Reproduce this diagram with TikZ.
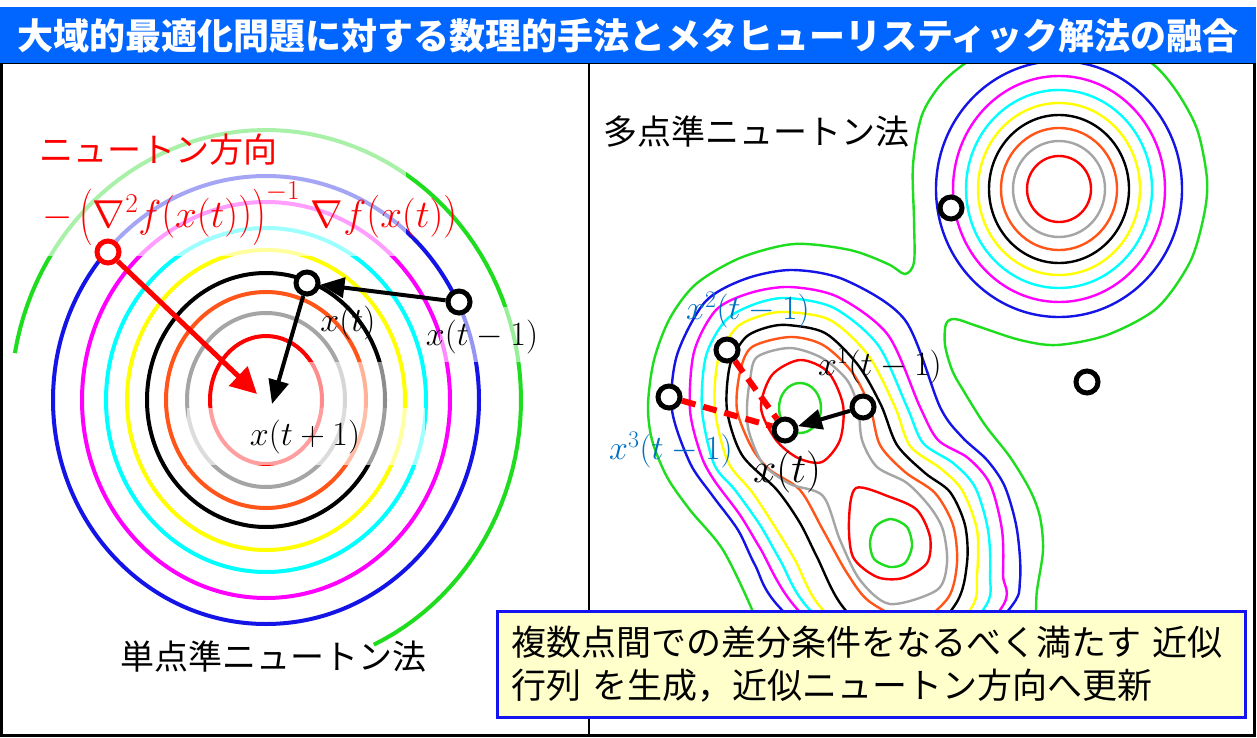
\RequirePackage{fix-cm}
\documentclass[tikz,border=0pt]{standalone}
\usepackage{fontspec}
\setmainfont{Noto Sans CJK JP}
\usetikzlibrary{arrows.meta}
\definecolor{tbar}{RGB}{0,102,255}
\definecolor{lblue}{RGB}{0,112,192}
\definecolor{cred}{RGB}{255,0,0}
\definecolor{cgray}{RGB}{165,165,165}
\definecolor{corange}{RGB}{255,85,25}
\definecolor{cyellow}{RGB}{255,255,0}
\definecolor{ccyan}{RGB}{0,255,255}
\definecolor{cmag}{RGB}{255,0,255}
\definecolor{cblue}{RGB}{20,20,230}
\definecolor{cgreen}{RGB}{30,220,30}
\definecolor{boxfill}{RGB}{255,255,204}
\definecolor{boxline}{RGB}{20,20,240}
\newcommand\pL[1]{\mathopen{\vcenter{\hbox{\scalebox{1}[#1]{$($}}}}}
\newcommand\pR[1]{\mathclose{\vcenter{\hbox{\scalebox{1}[#1]{$)$}}}}}
\begin{document}
\begin{tikzpicture}[x=1pt,y=-1pt,
  ring/.style={line width=4pt},
  cl/.style={line width=2.4pt},
  pt/.style={circle,draw=black,fill=white,line width=5pt,minimum size=22pt,inner sep=0pt},
  rpt/.style={pt,draw=cred},
  blkarr/.style={line width=4pt,-{Triangle[length=24pt,width=20pt]}},
  redarr/.style={cred,line width=5pt,-{Triangle[length=26pt,width=26pt]}},
  rdash/.style={cred,line width=6pt,dash pattern=on 14pt off 8pt},
  lbl/.style={font=\fontsize{34}{40}\selectfont,inner sep=0pt},
  jtxt/.style={font=\fontsize{34}{40}\selectfont,inner sep=0pt}]
\useasboundingbox (0,0) rectangle (1257,738);
\fill[white] (0,0) rectangle (1257,738);

% ---------- left panel rings ----------
\foreach \rc/\rx/\ry in {cred/56/64,cgray/79/87,corange/100/108,black/119/127,cyellow/139/150,ccyan/160/172,cmag/184/198,cblue/213/224}
  \draw[\rc,ring] (266,400) ellipse [x radius=\rx, y radius=\ry];
\draw[cgreen,ring] plot[domain=65:-170,samples=90] ({266+255*cos(\x)},{400+270*sin(\x)});
% faded areas
\fill[white,opacity=0.62] (15,100) rectangle (406,256);
\fill[white,opacity=0.62] (187,408) rectangle (425,465);
\fill[white,opacity=0.55] (280,362) rectangle (387,408);
\fill[white,opacity=0.55] (440,307) rectangle (530,362);

% ---------- right panel contours ----------
\begin{scope}
\clip (590,63) rectangle (1252,700);
% lower basin
\draw[cblue,cl] plot[smooth cycle] coordinates {(705,302) (745,279) (792,270) (845,280) (905,320) (940,407) (962,437) (987,460) (1005,487) (1017,530) (1020,580) (1007,612) (905,720) (782,610) (755,565) (738,530) (712,495) (690,463) (672,410) (677,355)};
\draw[cmag,cl] plot[smooth cycle] coordinates {(716,310) (750,293) (790,287) (838,297) (888,335) (920,407) (938,440) (968,458) (990,484) (1002,530) (1003,575) (1000,610) (905,705) (798,610) (760,548) (740,515) (714,480) (701,455) (690,410) (694,352)};
\draw[ccyan,cl] plot[smooth cycle] coordinates {(726,320) (755,304) (787,298) (834,308) (878,345) (907,407) (923,443) (953,463) (975,487) (988,530) (990,575) (983,610) (905,690) (810,610) (780,560) (760,525) (735,490) (714,464) (702,410) (706,356)};
\draw[cyellow,cl] plot[smooth cycle] coordinates {(736,328) (760,316) (786,312) (830,320) (868,355) (895,407) (910,446) (940,468) (962,490) (977,530) (977,575) (970,610) (905,675) (823,610) (795,560) (775,527) (752,492) (728,462) (715,410) (718,360)};
\draw[black,cl] plot[smooth cycle] coordinates {(745,338) (765,328) (787,325) (825,333) (858,365) (881,405) (897,445) (925,473) (950,492) (965,525) (967,563) (955,605) (900,660) (843,607) (817,557) (800,523) (777,490) (742,455) (727,410) (730,365)};
\draw[corange,cl] plot[smooth cycle] coordinates {(752,347) (790,337) (823,345) (852,372) (870,407) (880,445) (905,472) (935,493) (953,525) (957,563) (948,598) (915,622) (870,602) (847,573) (823,530) (800,490) (770,470) (752,448) (737,410) (740,372)};
\draw[cgray,cl] plot[smooth cycle] coordinates {(757,357) (790,348) (822,358) (847,380) (858,407) (862,440) (877,467) (907,483) (930,507) (943,530) (947,563) (937,590) (890,604) (860,580) (840,540) (823,496) (790,484) (763,464) (749,432) (747,407) (750,380)};
\draw[cred,cl] plot[smooth cycle] coordinates {(800,360) (828,372) (843,405) (840,440) (822,462) (798,458) (776,440) (761,408) (772,375)};
\draw[cred,cl] plot[smooth cycle] coordinates {(856,488) (890,497) (917,510) (930,537) (927,563) (903,578) (877,577) (853,557) (849,520)};
\draw[cgreen,cl] (800,408) ellipse [x radius=21, y radius=25];
\draw[cgreen,cl] plot[smooth cycle] coordinates {(891,519) (907,527) (912,546) (905,563) (890,567) (874,559) (870,542) (876,526)};
% upper basin
\foreach \rc/\rx/\ry in {cred/32/33,cgray/46/48,corange/58/61,black/70/74,cyellow/81/86,ccyan/93/99,cmag/106/113,cblue/123/128}
  \draw[\rc,cl] (1059,189) ellipse [x radius=\rx, y radius=\ry];
\draw[cgreen,cl] plot[smooth cycle] coordinates {
 (760,640) (753,612) (723,550) (690,510) (667,477) (652,440) (648,405) (654,360) (670,318) (696,284) (740,258) (794,244) (850,250) (888,264) (905,274) (914,262) (914,220) (913,165) (922,115) (943,82) (975,57) (1015,42) (1060,37) (1110,45) (1150,62) (1175,89) (1197,129) (1207,179) (1204,215) (1190,262) (1157,308) (1107,335) (1057,345) (1020,340) (977,326) (955,319) (946,324) (945,345) (952,370) (963,390) (985,425) (1010,457) (1030,490) (1040,517) (1043,550) (1037,590) (1030,640) (980,705) (900,722) (810,695)};
\end{scope}

% ---------- frame and title ----------
\draw[line width=3pt] (1.5,63) rectangle (1254,735);
\draw[line width=2.5pt] (589,63) -- (589,735);
\fill[tbar] (0,7) rectangle (1256,63);
\node[text=white,font=\fontsize{36}{40}\selectfont\bfseries,inner sep=0pt] (title) at (628,36) {大域的最適化問題に対する数理的手法とメタヒューリスティック解法の融合};

% ---------- left panel content ----------
\node[jtxt,text=cred] (ndir) at (158,150) {ニュートン方向};
\node[anchor=base west,text=cred,font=\fontsize{39}{46}\selectfont,inner sep=0pt] (form) at (42,227) {$-\,\pL{1.45}\nabla^2 f\pL{1.1}x(t)\pR{1.1}\pR{1.45}^{-1}\;\nabla f\pL{1.1}x(t)\pR{1.1}$};
\node[rpt] (np) at (108,252) {};
\node[pt] (xt) at (307,283) {};
\node[pt] (xtm) at (459,302) {};
\coordinate (nt) at (257,394);
\coordinate (xtp) at (272,404);
\draw[redarr] (np) -- (nt);
\draw[blkarr] (xtm) -- (xt);
\draw[blkarr] (xt) -- (xtp);
\node[lbl] (lxt) at (348,323) {$x(t)$};
\node[lbl] (lxtm) at (482,337) {$x(t-1)$};
\node[lbl] (lxtp) at (305,437) {$x(t+1)$};
\node[jtxt] (single) at (273,657) {単点準ニュートン法};

% ---------- right panel content ----------
\node[jtxt] (multi) at (756,132) {多点準ニュートン法};
\node[pt] (q2) at (727,350) {};
\node[pt] (q3) at (669,397) {};
\node[pt] (qt) at (785,430) {};
\node[pt] (q1) at (863,407) {};
\node[pt] (qa) at (951,208) {};
\node[pt] (qb) at (1087,382) {};
\draw[rdash] (q2) -- (qt);
\draw[rdash] (q3) -- (qt);
\draw[blkarr] (q1) -- (qt);
\node[lbl,text=lblue] (l2) at (748,310) {$x^2(t-1)$};
\node[lbl] (l1) at (880,366) {$x^1(t-1)$};
\node[lbl,text=lblue] (l3) at (671,450) {$x^3(t-1)$};
\node[font=\fontsize{42}{48}\selectfont,inner sep=0pt] (lt) at (787,472) {$x(t)$};

% ---------- note box ----------
\node[draw=boxline,line width=2.5pt,fill=boxfill,anchor=north west,minimum height=106pt,text width=720pt,align=left,inner xsep=14pt,font=\fontsize{35}{43}\selectfont] (box) at (496,610) {複数点間での差分条件をなるべく満たす 近似\\行列 を生成，近似ニュートン方向へ更新};
\end{tikzpicture}
\end{document}
